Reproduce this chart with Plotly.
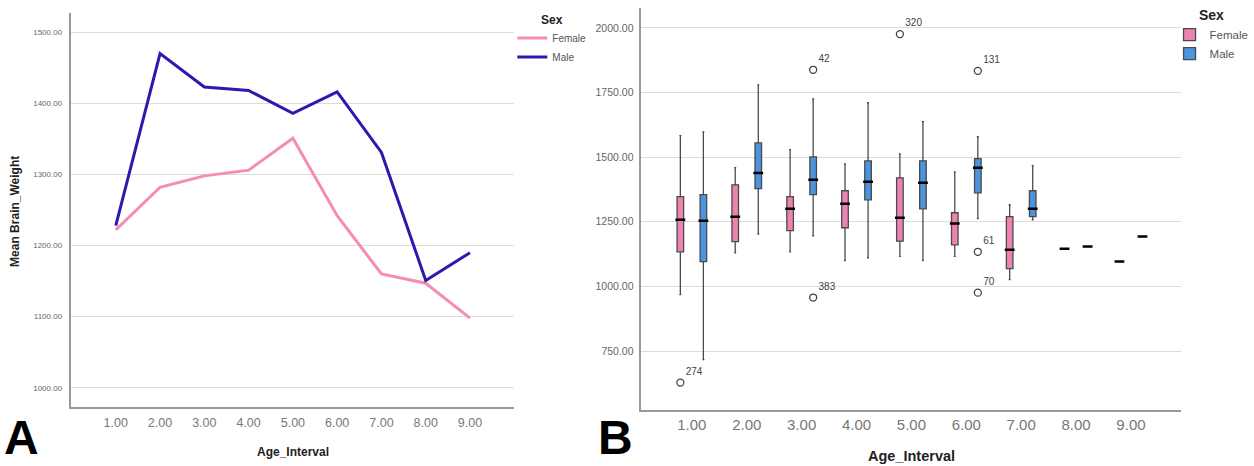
import plotly.graph_objects as go

# ---------------- data ----------------
ages = [1, 2, 3, 4, 5, 6, 7, 8, 9]
age_labels = ["1.00", "2.00", "3.00", "4.00", "5.00", "6.00", "7.00", "8.00", "9.00"]

mean_female = [1222, 1282, 1298, 1306, 1351, 1242, 1160, 1147, 1098]
mean_male = [1228, 1470, 1423, 1418, 1386, 1416, 1331, 1151, 1190]

# box statistics per age interval
f_low = [968, 1130, 1134, 1100, 1116, 1116, 1026, 1146, 1096]
f_q1 = [1134, 1173, 1216, 1227, 1175, 1161, 1069, 1146, 1096]
f_med = [1258, 1270, 1300, 1320, 1266, 1243, 1142, 1146, 1096]
f_q3 = [1347, 1393, 1347, 1370, 1420, 1285, 1270, 1146, 1096]
f_up = [1583, 1459, 1529, 1474, 1513, 1443, 1316, 1146, 1096]

m_low = [717, 1202, 1196, 1111, 1100, 1262, 1258, 1154, 1193]
m_q1 = [1096, 1378, 1355, 1335, 1300, 1362, 1270, 1154, 1193]
m_med = [1254, 1439, 1413, 1405, 1401, 1459, 1300, 1154, 1193]
m_q3 = [1355, 1555, 1501, 1486, 1486, 1494, 1370, 1154, 1193]
m_up = [1598, 1780, 1725, 1711, 1637, 1579, 1467, 1154, 1193]

# outliers
f_out_age = [1, 5]
f_out_val = [628, 1976]
f_out_id = ["274", "320"]
m_out_age = [3, 3, 6, 6, 6]
m_out_val = [1838, 957, 1834, 1134, 976]
m_out_id = ["42", "383", "131", "61", "70"]

# ---------------- styles ----------------
W, H = 1254, 466
PINK_LINE = "#F48CB6"
BLUE_LINE = "#2A1BAE"
PINK_BOX = "#EE82B0"
BLUE_BOX = "#4A94E0"
OFF = 0.21
BOXW = 0.12
FONT = "Liberation Sans, Arial, sans-serif"


def px_x(p):
    return p / W


def px_y(p):
    return 1 - p / H


fig = go.Figure()

# ---- panel A: mean lines ----
fig.add_trace(go.Scatter(x=ages, y=mean_female, mode="lines", name="Female",
                         line=dict(color=PINK_LINE, width=3), xaxis="x", yaxis="y",
                         legend="legend"))
fig.add_trace(go.Scatter(x=ages, y=mean_male, mode="lines", name="Male",
                         line=dict(color=BLUE_LINE, width=3), xaxis="x", yaxis="y",
                         legend="legend"))

# ---- panel B: boxes ----
fx = [a - OFF for a in ages]
mx = [a + OFF for a in ages]
fig.add_trace(go.Box(x=fx, q1=f_q1, median=f_med, q3=f_q3, lowerfence=f_low, upperfence=f_up,
                     name="Female", width=BOXW, fillcolor=PINK_BOX,
                     line=dict(color="#4a4a4a", width=1.3), whiskerwidth=0.3,
                     xaxis="x2", yaxis="y2", legend="legend2", hoverinfo="y"))
fig.add_trace(go.Box(x=mx, q1=m_q1, median=m_med, q3=m_q3, lowerfence=m_low, upperfence=m_up,
                     name="Male", width=BOXW, fillcolor=BLUE_BOX,
                     line=dict(color="#4a4a4a", width=1.3), whiskerwidth=0.3,
                     xaxis="x2", yaxis="y2", legend="legend2", hoverinfo="y"))
# thick medians
fig.add_trace(go.Scatter(x=fx + mx, y=f_med + m_med, mode="markers", showlegend=False,
                         marker=dict(symbol="line-ew", size=7, line=dict(color="black", width=2.5)),
                         xaxis="x2", yaxis="y2", hoverinfo="skip"))
# outliers
fig.add_trace(go.Scatter(x=[a - OFF for a in f_out_age] + [a + OFF for a in m_out_age],
                         y=f_out_val + m_out_val, text=f_out_id + m_out_id,
                         mode="markers+text", textposition="top right", showlegend=False,
                         marker=dict(symbol="circle-open", size=7, color="#444",
                                     line=dict(width=1.3)),
                         textfont=dict(size=10, color="#444", family=FONT),
                         xaxis="x2", yaxis="y2"))

axis_common = dict(showline=True, linecolor="#9a9a9a", linewidth=1.5, zeroline=False)


def ann(text, x, y, size, color="#222", angle=0, yanchor="middle"):
    return dict(text=text, x=px_x(x), y=px_y(y), xref="paper", yref="paper",
                xanchor="center", yanchor=yanchor, showarrow=False, textangle=angle,
                font=dict(size=size, color=color))


fig.update_layout(
    width=W, height=H,
    margin=dict(l=0, r=0, t=0, b=0),
    paper_bgcolor="white", plot_bgcolor="white",
    font=dict(family=FONT, color="#333"),
    showlegend=True,
    xaxis=dict(domain=[px_x(72), px_x(518)], range=[0, 10], tickvals=ages, ticktext=age_labels,
               showgrid=False, ticks="outside", ticklen=3, tickcolor="rgba(0,0,0,0)",
               anchor="y", tickfont=dict(family=FONT, color="#777", size=12.5), **axis_common),
    yaxis=dict(domain=[px_y(407), px_y(13)], range=[973, 1527], dtick=100, tickformat=".2f",
               showgrid=True, gridcolor="#dcdcdc", gridwidth=1.3, ticks="outside", ticklen=6,
               tickcolor="rgba(0,0,0,0)", anchor="x",
               tickfont=dict(family=FONT, color="#666", size=8), **axis_common),
    xaxis2=dict(domain=[px_x(646), px_x(1190)], range=[0.08, 9.92], tickvals=ages, ticktext=age_labels,
                showgrid=False, ticks="outside", ticklen=0, tickcolor="rgba(0,0,0,0)",
                anchor="y2", tickfont=dict(family=FONT, color="#777", size=15), **axis_common),
    yaxis2=dict(domain=[px_y(410), px_y(8)], range=[522, 2077], dtick=250, tickformat=".2f",
                showgrid=True, gridcolor="#dcdcdc", gridwidth=1.3, ticks="outside", ticklen=4,
                tickcolor="rgba(0,0,0,0)", anchor="x2",
                tickfont=dict(family=FONT, color="#666", size=10.5), **axis_common),
    legend=dict(x=px_x(516), y=px_y(8), xanchor="left", yanchor="top",
                title=dict(text="<b>Sex</b>", font=dict(size=12, color="#222"), side="top center"),
                font=dict(size=10, color="#555"), tracegroupgap=0, itemwidth=30,
                bgcolor="rgba(0,0,0,0)"),
    legend2=dict(x=px_x(1178), y=px_y(2), xanchor="left", yanchor="top",
                 title=dict(text="<b>Sex</b>", font=dict(size=14, color="#222"), side="top center"),
                 font=dict(size=11.5, color="#555"), tracegroupgap=0, itemwidth=30,
                 bgcolor="rgba(0,0,0,0)"),
    annotations=[
        ann("<b>Age_Interval</b>", 295, 452, 12),
        ann("<b>Age_Interval</b>", 918, 456, 14.5),
        ann("<b>Mean Brain_Weight</b>", 15, 211, 12, angle=-90),
        ann("<b>A</b>", 22, 466, 48, color="black", yanchor="bottom"),
        ann("<b>B</b>", 620, 466, 48, color="black", yanchor="bottom"),
    ],
)

fig.write_html("out.html", config={"displayModeBar": False},
               post_script="document.body.style.margin='0';document.body.style.overflow='hidden';")
